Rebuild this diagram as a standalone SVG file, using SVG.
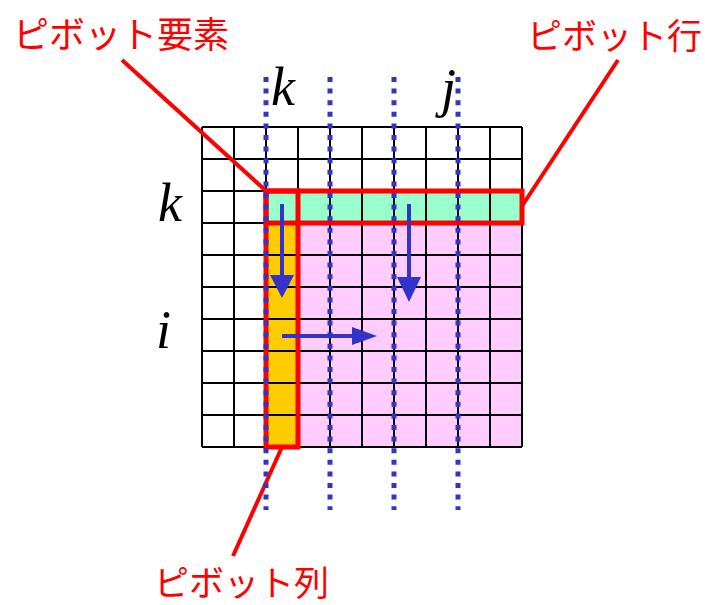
<svg xmlns="http://www.w3.org/2000/svg" width="705" height="605" viewBox="0 0 705 605">
<style>
.grid line{stroke:#000;stroke-width:2}
.red{fill:none;stroke:#FF0000;stroke-width:5}
.lead{stroke:#FF0000;stroke-width:4;fill:none}
.dot{stroke:#3333CC;stroke-width:5;stroke-dasharray:5 6.6;fill:none}
.arr{stroke:#3333CC;stroke-width:4;fill:none}
.head{fill:#3333CC}
.jp{font-family:"Noto Sans CJK JP","Noto Sans",sans-serif;font-size:35px;fill:#FF0000}
.var{font-family:"Liberation Serif","Times New Roman",serif;font-style:italic;font-size:54px;fill:#000}
</style>
<rect width="705" height="605" fill="#fff"/>
<g id="matrix">
<rect x="266" y="191" width="256" height="32" fill="#99FFCC"/>
<rect x="266" y="223" width="32" height="224" fill="#FFCC00"/>
<rect x="298" y="223" width="224" height="224" fill="#FFCCFF"/>
<g class="grid">
<line x1="202" y1="127" x2="202" y2="447"/><line x1="234" y1="127" x2="234" y2="447"/>
<line x1="266" y1="127" x2="266" y2="447"/><line x1="298" y1="127" x2="298" y2="447"/>
<line x1="330" y1="127" x2="330" y2="447"/><line x1="362" y1="127" x2="362" y2="447"/>
<line x1="394" y1="127" x2="394" y2="447"/><line x1="426" y1="127" x2="426" y2="447"/>
<line x1="458" y1="127" x2="458" y2="447"/><line x1="490" y1="127" x2="490" y2="447"/>
<line x1="522" y1="127" x2="522" y2="447"/>
<line x1="202" y1="127" x2="522" y2="127"/><line x1="202" y1="159" x2="522" y2="159"/>
<line x1="202" y1="191" x2="522" y2="191"/><line x1="202" y1="223" x2="522" y2="223"/>
<line x1="202" y1="255" x2="522" y2="255"/><line x1="202" y1="287" x2="522" y2="287"/>
<line x1="202" y1="319" x2="522" y2="319"/><line x1="202" y1="351" x2="522" y2="351"/>
<line x1="202" y1="383" x2="522" y2="383"/><line x1="202" y1="415" x2="522" y2="415"/>
<line x1="202" y1="447" x2="522" y2="447"/>
</g>
</g>
<g id="pivot-row"><rect class="red" x="266" y="191" width="256" height="32"/></g>
<g id="pivot-col"><rect class="red" x="266" y="191" width="32" height="256"/></g>
<g id="connectors">
<line class="lead" x1="122" y1="60" x2="265" y2="190"/>
<line class="lead" x1="618" y1="60" x2="522" y2="206"/>
<line class="lead" x1="282" y1="447" x2="233" y2="556"/>
<line class="dot" x1="266" y1="77" x2="266" y2="510"/>
<line class="dot" x1="330" y1="77" x2="330" y2="510"/>
<line class="dot" x1="394" y1="77" x2="394" y2="510"/>
<line class="dot" x1="458" y1="77" x2="458" y2="510"/>
<line class="arr" x1="282" y1="204" x2="282" y2="278"/>
<polygon class="head" points="270,275 294,275 282,298"/>
<line class="arr" x1="409" y1="204" x2="409" y2="280"/>
<polygon class="head" points="397,277 421,277 409,302"/>
<line class="arr" x1="282" y1="336" x2="355" y2="336"/>
<polygon class="head" points="352,327 352,345 377,336"/>
</g>
<g id="labels">
<text class="jp" x="13" y="48" style="font-size:36px">ピボット要素</text>
<text class="jp" x="527" y="49">ピボット行</text>
<text class="jp" x="154" y="596">ピボット列</text>
<text class="var" x="158" y="221">k</text>
<text class="var" x="271" y="105">k</text>
<text class="var" x="156" y="348">i</text>
<text class="var" x="441" y="106">j</text>
</g>
</svg>
